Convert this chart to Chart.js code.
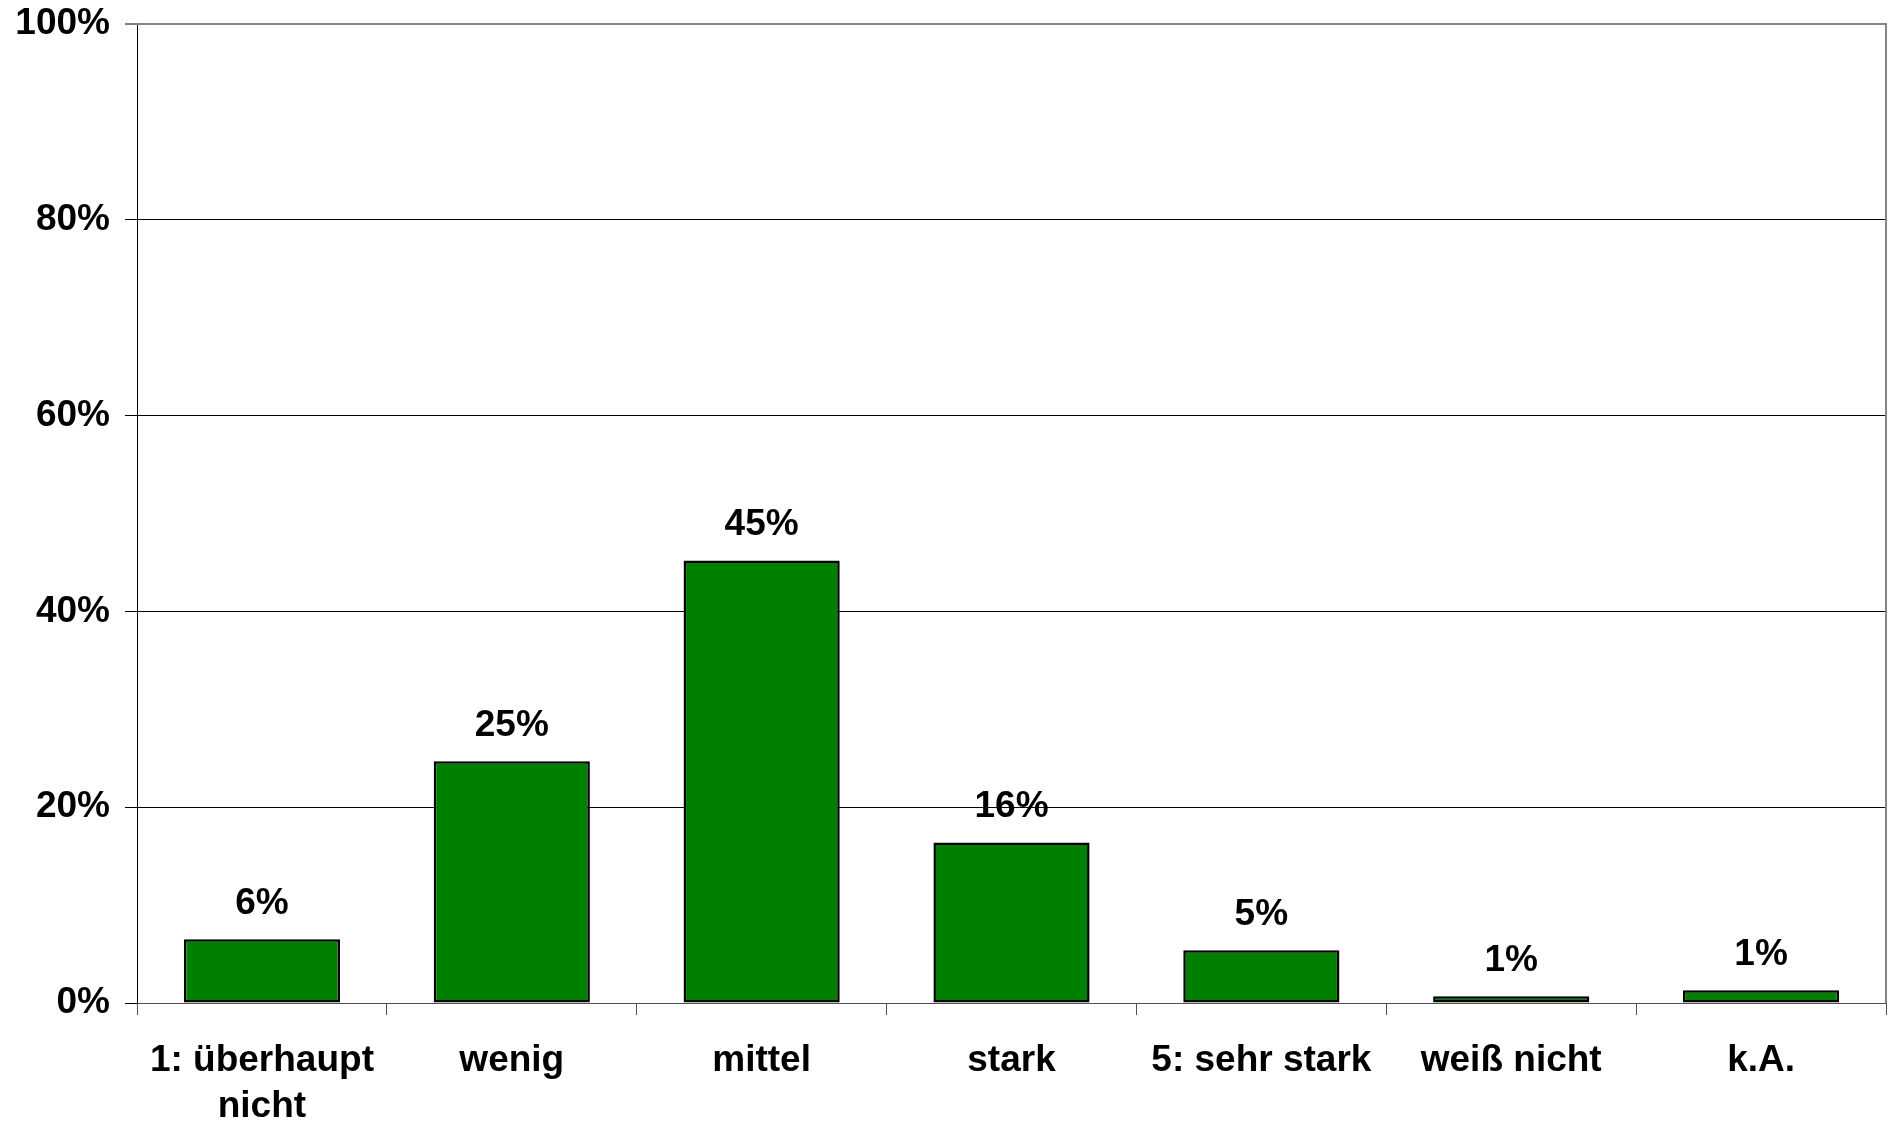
<!DOCTYPE html>
<html>
<head>
<meta charset="utf-8">
<script src="https://cdn.jsdelivr.net/npm/chart.js@4/dist/chart.umd.min.js"></script>
<style>
  html, body { margin: 0; padding: 0; background: #fff; }
  #wrap { width: 1892px; height: 1123px; position: relative; }
</style>
</head>
<body>
<div id="wrap"><canvas id="c" width="1892" height="1123"></canvas></div>
<script>
const categories = [["1: überhaupt", "nicht"], "wenig", "mittel", "stark", "5: sehr stark", "weiß nicht", "k.A."];
const values = [6.5, 24.7, 45.2, 16.4, 5.4, 0.7, 1.3];
const valueLabels = ["6%", "25%", "45%", "16%", "5%", "1%", "1%"];
const yTicks = [0, 20, 40, 60, 80, 100];

const FONT = "'Liberation Sans', Arial, Helvetica, sans-serif";
const FSIZE = 37;

const valueLabelPlugin = {
  id: 'valueLabels',
  afterDatasetsDraw(chart) {
    const ctx = chart.ctx;
    const meta = chart.getDatasetMeta(0);
    ctx.save();
    ctx.font = 'bold ' + FSIZE + 'px ' + FONT;
    ctx.fillStyle = '#000';
    ctx.textAlign = 'center';
    ctx.textBaseline = 'alphabetic';
    meta.data.forEach((bar, i) => {
      ctx.fillText(valueLabels[i], bar.x, bar.y - 25);
    });
    ctx.restore();
  }
};

const borderPlugin = {
  id: 'plotBorder',
  afterDraw(chart) {
    const a = chart.chartArea;
    const ctx = chart.ctx;
    ctx.save();
    ctx.strokeStyle = '#858585';
    ctx.lineWidth = 2;
    ctx.beginPath();
    ctx.moveTo(a.left, a.top);
    ctx.lineTo(a.right, a.top);
    ctx.lineTo(a.right, a.bottom);
    ctx.stroke();
    ctx.restore();
  }
};

new Chart(document.getElementById('c'), {
  type: 'bar',
  data: {
    labels: categories,
    datasets: [{
      data: values,
      backgroundColor: '#008000',
      borderColor: '#000000',
      borderWidth: 2.5,
      borderSkipped: false,
      categoryPercentage: 1.0,
      barPercentage: 0.625
    }]
  },
  options: {
    responsive: false,
    animation: false,
    devicePixelRatio: 1,
    layout: { padding: { top: 24, right: 6, bottom: 0, left: 0 } },
    plugins: { legend: { display: false }, tooltip: { enabled: false } },
    scales: {
      x: {
        offset: true,
        grid: {
          offset: true,
          drawOnChartArea: false,
          drawTicks: true,
          tickLength: 12,
          color: '#505050',
          lineWidth: 1
        },
        border: { display: true, color: '#505050', width: 1 },
        ticks: {
          color: '#000',
          padding: 22,
          maxRotation: 0,
          autoSkip: false,
          font: { family: FONT, size: FSIZE, weight: 'bold', lineHeight: 1.26 }
        },
        afterFit(scale) { scale.height = 120; scale.paddingLeft = 0; scale.paddingRight = 0; }
      },
      y: {
        min: 0,
        max: 100,
        afterBuildTicks(scale) { scale.ticks = yTicks.map(v => ({ value: v })); },
        grid: {
          drawTicks: true,
          tickLength: 12,
          tickColor: '#000',
          tickWidth: 1,
          color: (c) => c.tick && c.tick.value === 100 ? '#858585' : (c.tick && c.tick.value === 0 ? '#505050' : '#000'),
          lineWidth: (c) => c.tick && c.tick.value === 100 ? 2 : 1
        },
        border: { display: true, color: '#000', width: 1 },
        ticks: {
          color: '#000',
          padding: 15,
          callback: (v) => v + '%',
          font: { family: FONT, size: FSIZE, weight: 'bold' }
        },
        afterFit(scale) { scale.width = 137; scale.paddingTop = 0; scale.paddingBottom = 0; }
      }
    }
  },
  plugins: [valueLabelPlugin, borderPlugin]
});
</script>
</body>
</html>
